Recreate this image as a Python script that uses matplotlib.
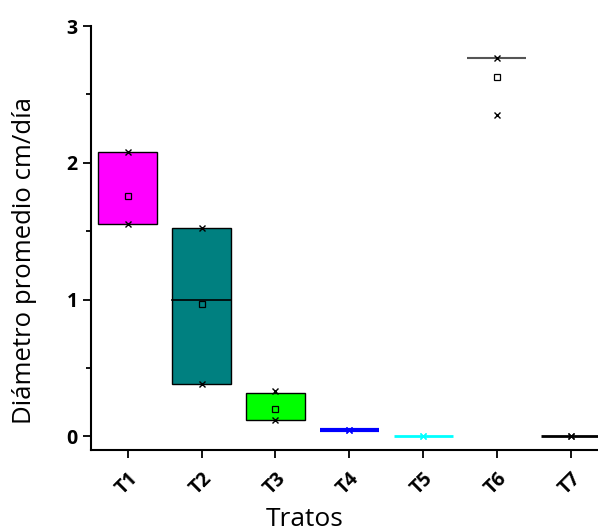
import matplotlib
matplotlib.use("Agg")
import matplotlib.pyplot as plt
from matplotlib.ticker import MultipleLocator

plt.rcParams['font.family'] = ['Open Sans', 'DejaVu Sans']

categories = ["T1", "T2", "T3", "T4", "T5", "T6", "T7"]
box_low = [1.55, 0.38, 0.12, 0.045, 0.0, 2.77, 0.0]
box_high = [2.08, 1.52, 0.32, 0.045, 0.0, 2.77, 0.0]
medians = [None, 1.0, None, None, None, None, None]
means = [1.76, 0.97, 0.20, 0.05, 0.0, 2.63, 0.0]
mins = [1.55, 0.38, 0.12, 0.045, 0.0, 2.35, 0.0]
maxs = [2.08, 1.52, 0.33, 0.05, 0.0, 2.77, 0.0]
colors = ["#FF00FF", "#008080", "#00FF00", "#0000FF", "#00FFFF", "#555555", "#000000"]

fig = plt.figure(figsize=(5.98, 5.32), dpi=100)
ax = fig.add_axes([0.152, 0.154, 0.848, 0.797])

width = 0.8
for i, cat in enumerate(categories):
    x = i + 1
    lo, hi = box_low[i], box_high[i]
    if hi - lo > 0.01:
        ax.bar(x, hi - lo, bottom=lo, width=width, color=colors[i],
               edgecolor="black", linewidth=1.0, zorder=2)
    else:
        lw = {3: 3.0, 4: 2.0, 5: 1.5, 6: 2.0}.get(i, 2.0)
        ax.plot([x - width / 2, x + width / 2], [lo, lo], color=colors[i],
                linewidth=lw, zorder=2, solid_capstyle='butt')
    if medians[i] is not None:
        ax.plot([x - width / 2, x + width / 2], [medians[i], medians[i]],
                color="black", linewidth=1.2, zorder=3)
    mcol = "black" if i not in (3, 4) else colors[i]
    ax.plot([x, x], [mins[i], maxs[i]], linestyle="none", marker="x",
            markersize=5, color=mcol, markeredgewidth=1.0, zorder=4)
    if i not in (3, 4, 6):
        ax.plot([x], [means[i]], linestyle="none", marker="s", markersize=4,
                markerfacecolor="none", markeredgecolor="black",
                markeredgewidth=0.9, zorder=4)

ax.set_xlim(0.5, 7.37)
ax.set_ylim(-0.1, 3.0)
ax.set_xticks(range(1, len(categories) + 1))
ax.set_xticklabels(categories, rotation=45, ha="right", rotation_mode="anchor",
                   fontsize=14, fontweight="bold")
ax.yaxis.set_minor_locator(MultipleLocator(0.5))
ax.set_yticks([0, 1, 2, 3])
ax.set_yticklabels(["0", "1", "2", "3"], fontsize=14, fontweight="bold")
ax.tick_params(axis="both", which="major", direction="out", length=6, width=1.3)
ax.tick_params(axis="y", which="minor", direction="out", length=3.5, width=1.3)
ax.tick_params(axis="x", pad=7)

for s in ["top", "right"]:
    ax.spines[s].set_visible(False)
for s in ["left", "bottom"]:
    ax.spines[s].set_linewidth(1.5)

fig.text(305 / 598, 1 - 519 / 532, "Tratos", fontsize=19, ha="center", va="center")
fig.text(25 / 598, 1 - 260 / 532, "Diámetro promedio cm/día", fontsize=18.5,
         ha="center", va="center", rotation=90)

fig.savefig("out.png", dpi=100)
